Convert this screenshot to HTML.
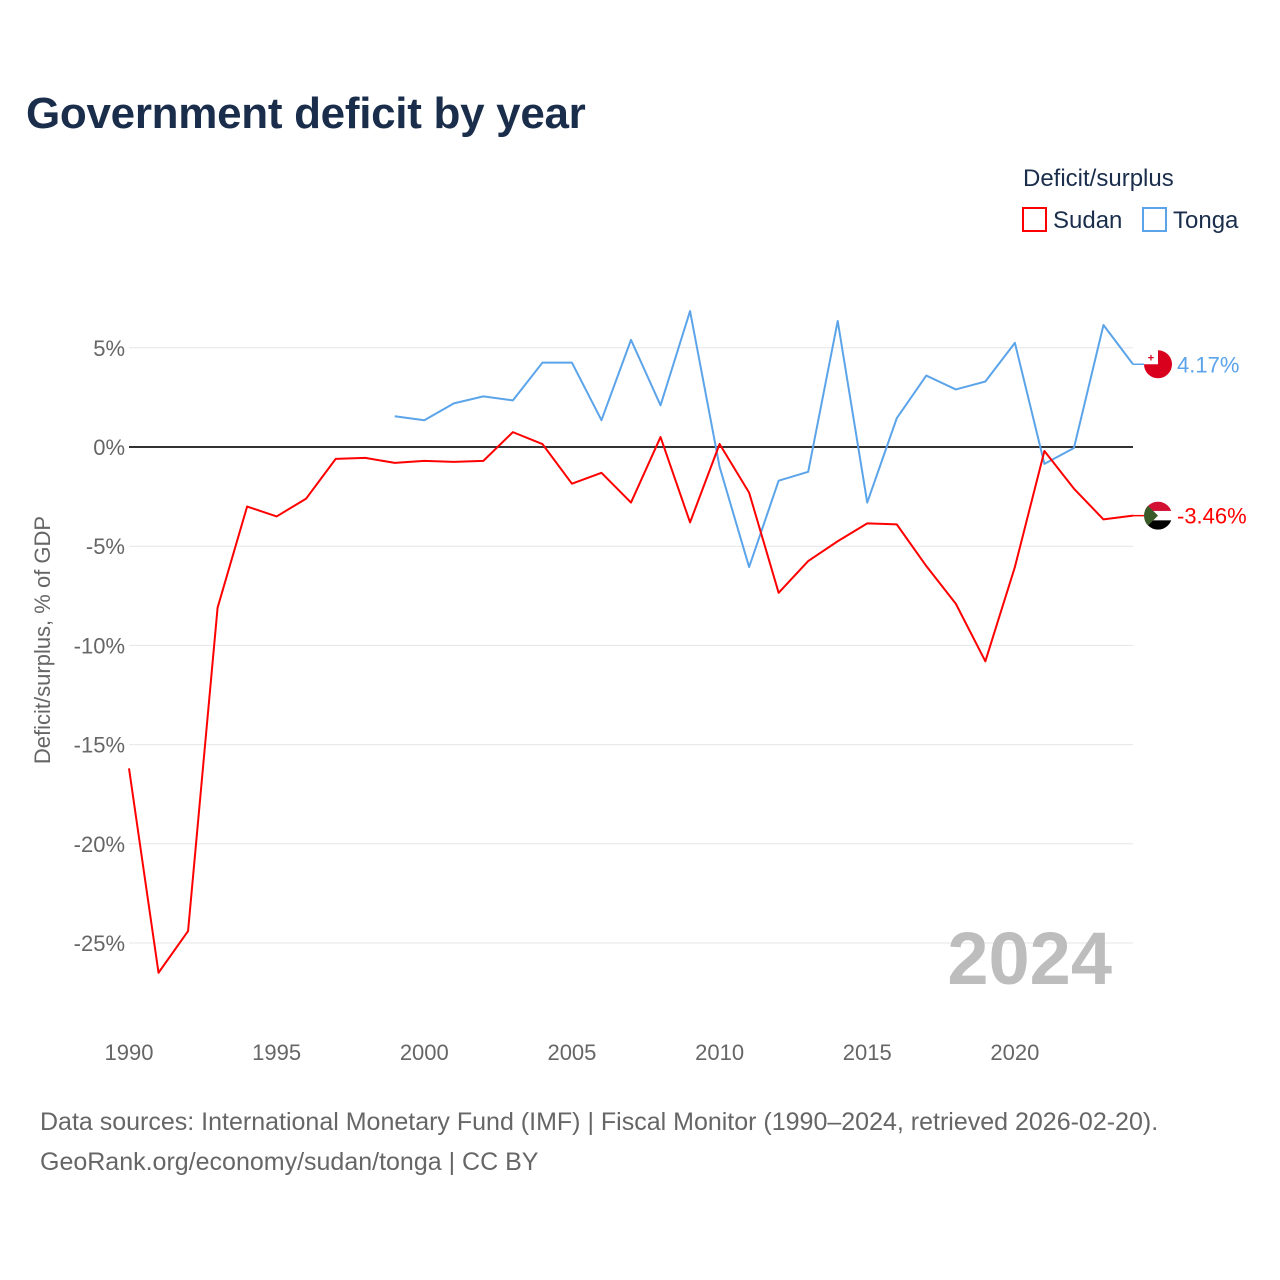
<!DOCTYPE html>
<html><head><meta charset="utf-8">
<style>
body{margin:0;background:#fff;font-family:"Liberation Sans",sans-serif;}
#wrap{position:relative;width:1280px;height:1280px;overflow:hidden;}
.title{position:absolute;left:26px;top:89px;font-size:44px;font-weight:bold;color:#1a2e4c;letter-spacing:-0.3px;}
.src{position:absolute;left:40px;font-size:25px;color:#666;}
</style></head>
<body><div id="wrap">
<div class="title">Government deficit by year</div>
<svg id="svg" width="1280" height="1280" style="position:absolute;left:0;top:0"></svg>
<div class="src" style="top:1108px">Data sources: International Monetary Fund (IMF) | Fiscal Monitor (1990–2024, retrieved 2026-02-20).</div>
<div class="src" style="top:1148px">GeoRank.org/economy/sudan/tonga | CC BY</div>
</div>
<script>
const sudanYears=[1990,1991,1992,1993,1994,1995,1996,1997,1998,1999,2000,2001,2002,2003,2004,2005,2006,2007,2008,2009,2010,2011,2012,2013,2014,2015,2016,2017,2018,2019,2020,2021,2022,2023,2024];
const sudanValues=[-16.2,-26.5,-24.4,-8.1,-3.0,-3.5,-2.6,-0.6,-0.55,-0.8,-0.7,-0.75,-0.7,0.75,0.15,-1.85,-1.3,-2.8,0.5,-3.8,0.15,-2.3,-7.35,-5.75,-4.75,-3.85,-3.9,-6.0,-7.9,-10.8,-6.05,-0.2,-2.1,-3.65,-3.46];
const tongaYears=[1999,2000,2001,2002,2003,2004,2005,2006,2007,2008,2009,2010,2011,2012,2013,2014,2015,2016,2017,2018,2019,2020,2021,2022,2023,2024];
const tongaValues=[1.55,1.35,2.2,2.55,2.35,4.25,4.25,1.35,5.4,2.1,6.85,-1.0,-6.05,-1.7,-1.25,6.35,-2.8,1.45,3.6,2.9,3.3,5.25,-0.85,-0.05,6.15,4.17];
const yTicks=[5,0,-5,-10,-15,-20,-25];
const xTicks=[1990,1995,2000,2005,2010,2015,2020];

const svg=document.getElementById('svg');
const NS='http://www.w3.org/2000/svg';
const X=y=>129+(y-1990)*(1133-129)/34;
const Y=v=>447-v*19.84;
function mk(tag,attrs,text){const e=document.createElementNS(NS,tag);for(const k in attrs)e.setAttribute(k,attrs[k]);if(text!==undefined)e.textContent=text;svg.appendChild(e);return e;}

yTicks.forEach(t=>{
  const g=mk('line',{x1:129,x2:1133,y1:Y(t),y2:Y(t),stroke:t===0?'#333':'#e6e6e6','stroke-width':t===0?2:1});
  
  
  const l=mk('text',{x:125,y:Y(t)+8,'text-anchor':'end','font-size':22,fill:'#666','font-family':'Liberation Sans'},t+'%');
  
  
});
xTicks.forEach(t=>{
  const l=mk('text',{x:X(t),y:1060,'text-anchor':'middle','font-size':22,fill:'#666','font-family':'Liberation Sans'},String(t));
  
  
});
const yt=mk('text',{x:0,y:0,transform:'translate(50,640) rotate(-90)','text-anchor':'middle','font-size':22,fill:'#666','font-family':'Liberation Sans'},'Deficit/surplus, % of GDP');



const yr=mk('text',{x:1112,y:984,'text-anchor':'end','font-size':74,'font-weight':'bold',fill:'#bdbdbd','font-family':'Liberation Sans'},'2024');



function line(years,vals,color,name){
  const p=mk('polyline',{points:years.map((y,i)=>X(y)+','+Y(vals[i])).join(' '),fill:'none',stroke:color,'stroke-width':2,'stroke-linejoin':'round'});
  
  
}
line(tongaYears,tongaValues,'#5ba4ea','tonga-line');
line(sudanYears,sudanValues,'#ff0000','sudan-line');

const tv=tongaValues[tongaValues.length-1], sv=sudanValues[sudanValues.length-1];
const c1=mk('line',{x1:1133,x2:1144,y1:Y(tv),y2:Y(tv),stroke:'#5ba4ea','stroke-width':1.5});


const c2=mk('line',{x1:1133,x2:1144,y1:Y(sv),y2:Y(sv),stroke:'#ff0000','stroke-width':1.5});


const tf=mk('circle',{cx:1158,cy:Y(tv),r:14,fill:'#d9001e'});


const tr=mk('rect',{x:1144,y:Y(tv)-14,width:14,height:14,fill:'#fff'});


const tc=mk('text',{x:1151,y:Y(tv)-3,'text-anchor':'middle','font-size':11,fill:'#d9001e','font-weight':'bold'},'+');


const tl=mk('text',{x:1177,y:Y(tv)+8,'font-size':22,fill:'#5ba4ea','font-family':'Liberation Sans'},tv.toFixed(2)+'%');



const sy=Y(sv);
const cp=mk('clipPath',{id:'sc'});
const cc=document.createElementNS(NS,'circle');cc.setAttribute('cx',1158);cc.setAttribute('cy',sy);cc.setAttribute('r',14);cp.appendChild(cc);
const sg=mk('g',{'clip-path':'url(#sc)'});


[['#d21034',sy-14],['#fff',sy-4.7],['#000',sy+4.7]].forEach(([c,y0])=>{const r=document.createElementNS(NS,'rect');r.setAttribute('x',1144);r.setAttribute('y',y0);r.setAttribute('width',28);r.setAttribute('height',9.4);r.setAttribute('fill',c);sg.appendChild(r);});
const tri=document.createElementNS(NS,'polygon');tri.setAttribute('points',`1144,${sy-14} 1158,${sy} 1144,${sy+14}`);tri.setAttribute('fill','#3a5a2a');sg.appendChild(tri);
const sl=mk('text',{x:1177,y:sy+8,'font-size':22,fill:'#ff0000','font-family':'Liberation Sans'},sv.toFixed(2)+'%');



const lt=mk('text',{x:1023,y:186,'font-size':24,fill:'#1a2e4c','font-family':'Liberation Sans'},'Deficit/surplus');


const ls=mk('rect',{x:1023,y:208,width:23,height:23,fill:'none',stroke:'#ff0000','stroke-width':2});


const lst=mk('text',{x:1053,y:228,'font-size':24,fill:'#1a2e4c','font-family':'Liberation Sans'},'Sudan');


const lg=mk('rect',{x:1143,y:208,width:23,height:23,fill:'none',stroke:'#5ba4ea','stroke-width':2});


const lgt=mk('text',{x:1173,y:228,'font-size':24,fill:'#1a2e4c','font-family':'Liberation Sans'},'Tonga');


</script>
</body></html>
